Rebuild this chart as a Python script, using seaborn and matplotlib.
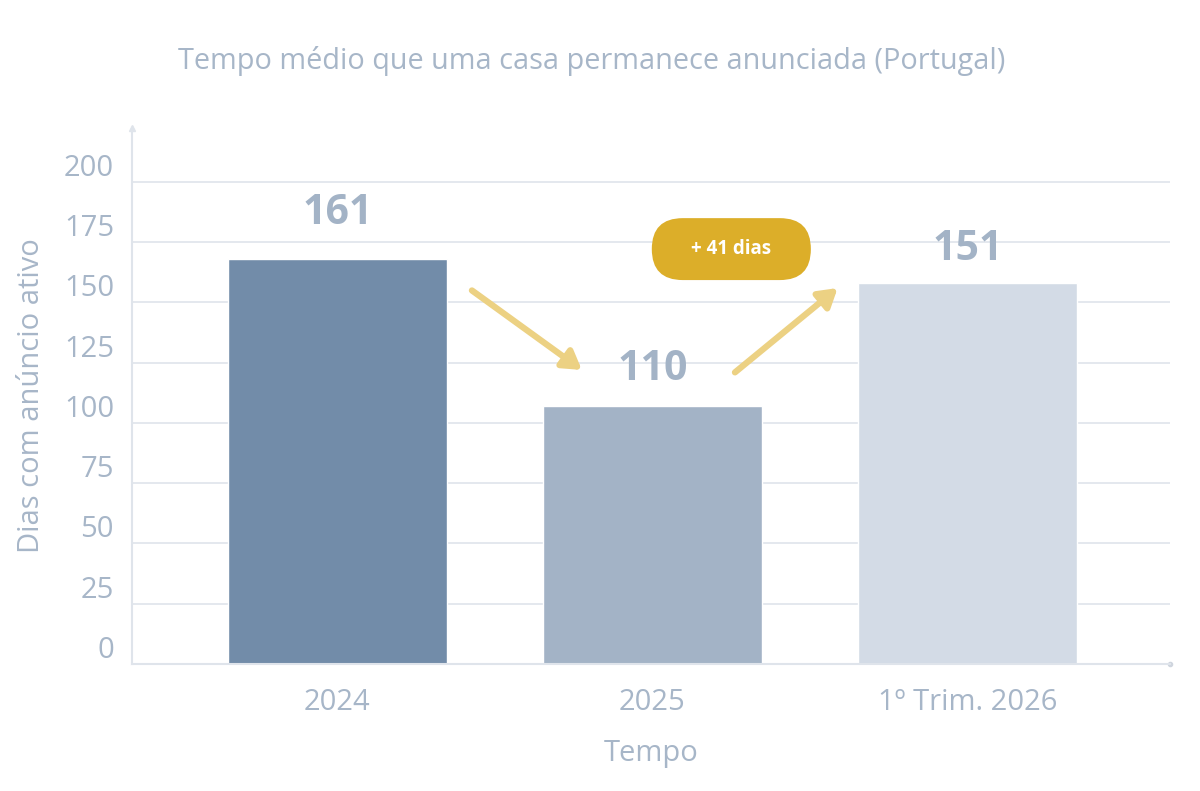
import matplotlib
matplotlib.use("Agg")
import matplotlib.pyplot as plt
import matplotlib.transforms as mtransforms
from matplotlib.patches import FancyBboxPatch
import seaborn as sns
import pandas as pd

# ======================
# Data
# ======================
categories = ["2024", "2025", "1º Trim. 2026"]
bar_heights = [168, 107, 158]
value_labels = ["161", "110", "151"]
bar_colors = ["#728ca9", "#a3b3c6", "#d3dbe6"]
y_ticks = [0, 25, 50, 75, 100, 125, 150, 175, 200]
badge_text = "+ 41 dias"

title = "Tempo médio que uma casa permanece anunciada (Portugal)"
x_label = "Tempo"
y_label = "Dias com anúncio ativo"

text_color = "#a7b6c8"
grid_color = "#dfe4eb"
arrow_color = "#ecd183"
badge_color = "#dcae29"

df = pd.DataFrame({"periodo": categories, "dias": bar_heights})

sns.set_theme(style="white")
plt.rcParams["font.family"] = ["Open Sans", "DejaVu Sans"]

fig = plt.figure(figsize=(12, 7.91), dpi=100)
ax = fig.add_axes([132 / 1200, 1 - 664 / 791, (1170 - 132) / 1200, (664 - 128) / 791])

sns.barplot(
    data=df, x="periodo", y="dias", hue="periodo",
    palette=bar_colors, width=0.695, legend=False, ax=ax, saturation=1,
)

ax.set_xlim(-0.652, 2.643)
ax.set_ylim(0, 222.4)

# ======================
# Grid / spines
# ======================
ax.set_yticks(y_ticks)
for t in y_ticks[1:]:
    ax.axhline(t, color=grid_color, lw=1.2, zorder=0)
for s in ["top", "right"]:
    ax.spines[s].set_visible(False)
for s in ["left", "bottom"]:
    ax.spines[s].set_color(grid_color)
    ax.spines[s].set_linewidth(1.5)
ax.plot([0], [1], marker="^", ms=4, color=grid_color, transform=ax.transAxes, clip_on=False)
ax.plot([1], [0], marker="o", ms=3, color="#cfd5de", transform=ax.transAxes, clip_on=False)

ax.tick_params(axis="both", length=0, labelsize=21, labelcolor=text_color)
ax.tick_params(axis="x", pad=17)
ax.tick_params(axis="y", pad=13)
offset = mtransforms.ScaledTranslation(0, 17 / 100, fig.dpi_scale_trans)
for lab in ax.get_yticklabels():
    lab.set_transform(lab.get_transform() + offset)

ax.set_xlabel(x_label, fontsize=21, color=text_color)
ax.set_ylabel(y_label, fontsize=21, color=text_color)
ax.xaxis.set_label_coords(0.5, (664 - 754) / 536)
ax.xaxis.label.set_va("center")
ax.yaxis.set_label_coords((32 - 132) / 1038, 0.5)
ax.yaxis.label.set_va("center")

fig.text(592 / 1200, 1 - 61 / 791, title, ha="center", va="center",
         fontsize=20.8, color=text_color)

# ======================
# Value labels
# ======================
label_gap = [19, 15, 14]
for i, (h, lab) in enumerate(zip(bar_heights, value_labels)):
    ax.text(i, h + label_gap[i], lab, ha="center", va="center",
            fontsize=29.5, fontweight="bold", color="#a3b3c6")

# ======================
# Arrows
# ======================
arrow_kw = dict(arrowstyle="-|>,head_length=0.9,head_width=0.55", color=arrow_color,
                lw=4.5, shrinkA=0, shrinkB=0)
ax.annotate("", xy=(0.776, bar_heights[1] + 15), xytext=(0.427, bar_heights[0] - 13),
            arrowprops=arrow_kw)
ax.annotate("", xy=(1.588, bar_heights[2] - 2), xytext=(1.262, bar_heights[1] + 14),
            arrowprops=arrow_kw)

# ======================
# Badge
# ======================
px_x = 315.0
px_y = 2.41
badge = FancyBboxPatch(
    (0.998, 159.3), 0.505, 25.7,
    boxstyle="round,pad=0,rounding_size=%f" % (31 / px_x),
    mutation_aspect=px_x / px_y,
    fc=badge_color, ec="none", zorder=5, clip_on=False,
)
ax.add_patch(badge)
ax.text(0.998 + 0.505 / 2, 159.3 + 25.7 / 2, badge_text, ha="center", va="center",
        fontsize=13.5, fontweight="bold", color="white", zorder=6)

fig.savefig("out.png", dpi=100)
